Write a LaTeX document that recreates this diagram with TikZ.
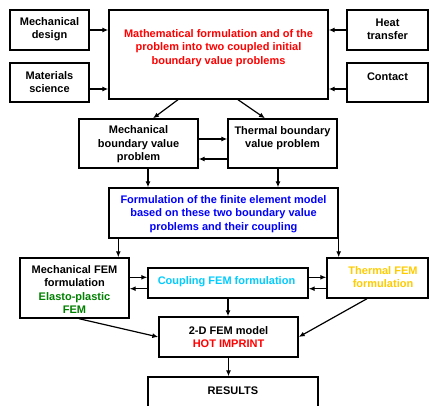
\documentclass[tikz,border=0pt]{standalone}
\usepackage{fontspec}
\setmainfont{Liberation Sans}
\usetikzlibrary{arrows.meta,calc}
\definecolor{tred}{RGB}{255,0,0}
\definecolor{tblue}{RGB}{0,0,255}
\definecolor{tcyan}{RGB}{0,204,255}
\definecolor{tgold}{RGB}{255,204,0}
\definecolor{tgreen}{RGB}{0,128,0}
\tikzset{
  box/.style={draw, line width=1.4pt, rectangle, inner sep=0pt, fill=white},
  txt/.style={align=center, inner sep=0pt, yshift=-1.5pt, font=\fontsize{11}{13.4}\selectfont\bfseries},
  arr/.style={line width=1.2pt, -{Latex[length=6pt,width=5pt]}}
}
\begin{document}
\begin{tikzpicture}[x=1pt,y=-1pt]
\path[use as bounding box, clip] (0,0) rectangle (429,406);
\fill[white] (0,0) rectangle (429,406);
% boxes
\node[box, minimum width=79pt, minimum height=40pt] (md) at (49.5,30) {};
\node[box, minimum width=79pt, minimum height=39pt] (ms) at (49.5,82.5) {};
\node[box, minimum width=219pt, minimum height=89pt] (main) at (218.5,54.5) {};
\node[box, minimum width=81pt, minimum height=40pt] (ht) at (387.5,30) {};
\node[box, minimum width=81pt, minimum height=39pt] (ct) at (387.5,82.5) {};
\node[box, minimum width=119pt, minimum height=49pt] (mbvp) at (138.5,143.5) {};
\node[box, minimum width=109pt, minimum height=49pt] (tbvp) at (282.5,143.5) {};
\node[box, minimum width=229pt, minimum height=50pt] (form) at (223.5,213) {};
\node[box, minimum width=109pt, minimum height=60pt] (mfem) at (74.5,288) {};
\node[box, minimum width=160pt, minimum height=30pt] (coup) at (228,283) {};
\node[box, minimum width=101pt, minimum height=40pt] (tfem) at (377.5,278) {};
\node[box, minimum width=139pt, minimum height=40pt] (fem) at (228.5,337) {};
\node[box, minimum width=170pt, minimum height=60pt] (res) at (233,407) {};
% texts
\node[txt] (tmd) at (49.5,27.5) {Mechanical\\design};
\node[txt] (tms) at (49.5,80.5) {Materials\\science};
\node[txt, text=tred] (tmain) at (218.5,46.5) {Mathematical formulation and of the\\problem into two coupled initial\\boundary value problems};
\node[txt] (tht) at (387.5,27.5) {Heat\\transfer};
\node[txt] (tct) at (387.5,75) {Contact};
\node[txt] (tmbvp) at (138.5,143) {Mechanical\\boundary value\\problem};
\node[txt] (ttbvp) at (282.5,136.5) {Thermal boundary\\value problem};
\node[txt, text=tblue] (tform) at (223.5,212.5) {Formulation of the finite element model\\based on these two boundary value\\problems and their coupling};
\node[txt] (tmfem) at (74.5,288) {Mechanical FEM\\formulation\\\textcolor{tgreen}{Elasto-plastic}\\\textcolor{tgreen}{FEM}};
\node[txt, text=tcyan] (tcoup) at (226.5,280) {Coupling FEM formulation};
\node[txt, text=tgold] (ttfem) at (383,275.5) {Thermal FEM\\formulation};
\node[txt] (tfem2) at (228.5,335.5) {2-D FEM model\\\textcolor{tred}{HOT IMPRINT}};
\node[txt] (tres) at (233,389) {RESULTS};
% arrows
\draw[arr] (md.east) -- (main.west |- md.east);
\draw[arr] ([yshift=-6.5pt]ms.east) coordinate (a1) -- (a1 -| main.west);
\draw[arr] (ht.west) -- (main.east |- ht.west);
\draw[arr] ([yshift=-6.5pt]ct.west) coordinate (a2) -- (a2 -| main.east);
\draw[arr] ([xshift=-40.5pt]main.south) -- ([xshift=14.5pt]mbvp.north);
\draw[arr] ([xshift=19.5pt]main.south) -- ([xshift=-17.5pt]tbvp.north);
\draw[arr] ([yshift=4.5pt]mbvp.east) coordinate (a3) -- (a3 -| tbvp.west);
\draw[arr] ([yshift=-15.5pt]tbvp.west) coordinate (a4) -- (a4 -| mbvp.east);
\draw[arr] ([xshift=9.5pt]mbvp.south) coordinate (a5) -- (a5 |- form.north);
\draw[arr] ([xshift=-4.5pt]tbvp.south) coordinate (a6) -- (a6 |- form.north);
\draw[arr] ([xshift=10pt]form.south west) coordinate (a7) -- (a7 |- mfem.north);
\draw[arr] (form.south east) -- (form.south east |- tfem.north);
\coordinate (b1) at ([yshift=-10pt]coup.north west);
\coordinate (b2) at ([yshift=10pt]coup.south west);
\draw[arr] (mfem.east |- b1) -- (b1);
\draw[arr] (b2) -- (b2 -| mfem.east);
\draw[arr] (b1 -| coup.east) -- (b1 -| tfem.west);
\draw[arr] (b2 -| tfem.west) -- (b2 -| coup.east);
\draw[arr] (coup.south) -- (coup.south |- fem.north);
\draw[arr] ([xshift=4.5pt]mfem.south) -- (fem.west);
\draw[arr] ([xshift=-10.5pt]tfem.south) -- (fem.east);
\draw[arr] (fem.south) -- (fem.south |- res.north);
\end{tikzpicture}
\end{document}
